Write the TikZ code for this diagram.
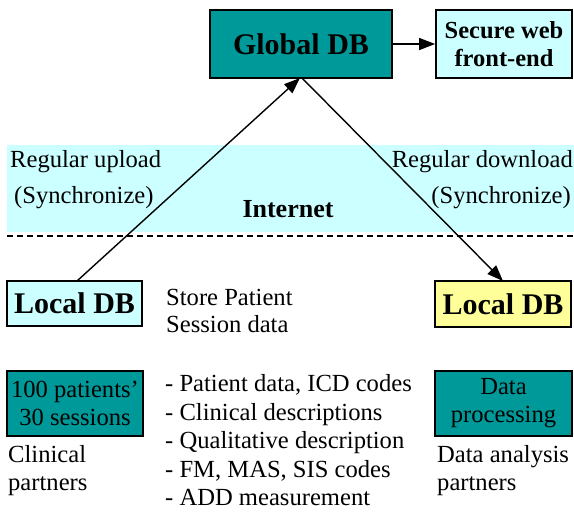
\documentclass[tikz,border=0pt]{standalone}
\usepackage{fontspec}
\setmainfont{Liberation Serif}
\usetikzlibrary{arrows.meta}
\definecolor{teal1}{HTML}{009999}
\definecolor{cyan1}{HTML}{CCFFFF}
\definecolor{yel1}{HTML}{FFFF99}
\tikzset{
  box/.style={draw=black, line width=1.7pt, inner sep=0pt, align=center},
  bigb/.style={font=\fontsize{30}{34}\selectfont\bfseries},
  medb/.style={font=\fontsize{24.5}{28}\selectfont\bfseries},
  reg/.style={font=\fontsize{24.6}{28}\selectfont},
  txt/.style={inner sep=0pt, anchor=base west, reg},
  txtr/.style={inner sep=0pt, anchor=base east, reg},
  conn/.style={line width=1.4pt, -{Triangle[length=16pt,width=12pt]}}
}
\begin{document}
\begin{tikzpicture}[x=1pt,y=-1pt]
\useasboundingbox (0,0) rectangle (574,515);
% band
\fill[cyan1] (7,145) rectangle (574,232);
\draw[line width=1.5pt, dash pattern=on 6pt off 4pt] (7,236) -- (574,236);
% boxes
\node[box, fill=teal1, bigb, minimum width=182pt, minimum height=68pt] (gdb) at (301,44) {Global DB};
\node[box, fill=cyan1, medb, minimum width=136pt, minimum height=68pt] (web) at (504,44) {Secure web\\front-end};
\node[box, fill=cyan1, bigb, minimum width=135pt, minimum height=45pt] (ldbl) at (74.5,303.5) {Local DB};
\node[box, fill=yel1, bigb, minimum width=136pt, minimum height=46pt] (ldbr) at (503,304) {Local DB};
\node[box, fill=teal1, reg, minimum width=136pt, minimum height=65pt] (pat) at (75,403.5) {100 patients’\\30 sessions};
\node[box, fill=teal1, reg, minimum width=137pt, minimum height=65pt] (proc) at (503.5,403.5) {Data\\processing};
% connectors
\coordinate (upS) at (77,281);
\coordinate (upE) at (300,78);
\coordinate (dnS) at (302,78);
\coordinate (dnE) at (503,281);
\draw[conn] (upS) -- (upE);
\draw[conn] (dnS) -- (dnE);
\draw[conn] (gdb.east) -- (web.west);
% texts
\node[txt] (t1) at (10,167) {Regular upload};
\node[txt] (t2) at (14,203) {(Synchronize)};
\node[txtr] (t3) at (573,167) {Regular download};
\node[txtr] (t4) at (571,203) {(Synchronize)};
\node[inner sep=0pt, anchor=base, font=\fontsize{26}{30}\selectfont\bfseries] (inet) at (288,217) {Internet};
\node[txt] (s1) at (166,305) {Store Patient};
\node[txt] (s2) at (166,332) {Session data};
\node[txt] (l1) at (165,391) {- Patient data, ICD codes};
\node[txt] (l2) at (165,420) {- Clinical descriptions};
\node[txt] (l3) at (165,448) {- Qualitative description};
\node[txt] (l4) at (165,477) {- FM, MAS, SIS codes};
\node[txt] (l5) at (165,505) {- ADD measurement};
\node[txt] (c1) at (8,462) {Clinical};
\node[txt] (c2) at (8,490) {partners};
\node[txt] (d1) at (437,462) {Data analysis};
\node[txt] (d2) at (437,490) {partners};
\end{tikzpicture}
\end{document}
